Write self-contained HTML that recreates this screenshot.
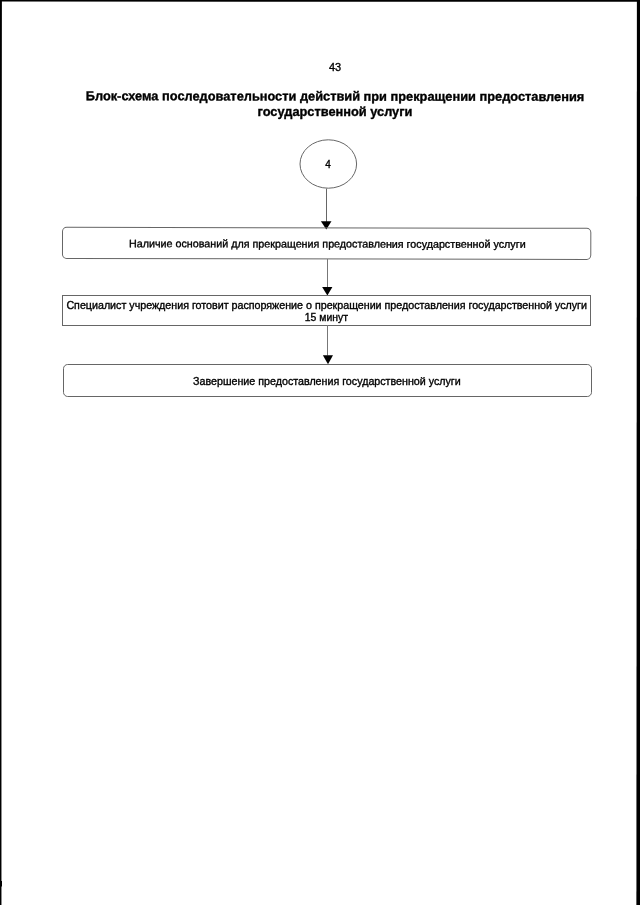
<!DOCTYPE html>
<html><head><meta charset="utf-8">
<style>
html,body{margin:0;padding:0;background:#fff;}
body{width:640px;height:905px;position:relative;overflow:hidden;}
svg{position:absolute;left:0;top:0;will-change:transform;}
text{font-family:"Liberation Sans",sans-serif;fill:#000;stroke:#000;stroke-width:0.35px;}
.ln{fill:none;stroke:#666;stroke-width:1;}
.sh{stroke:#777;stroke-width:1;}
</style></head><body>
<svg width="640" height="905" viewBox="0 0 640 905">
<!-- scan borders -->
<g filter="url(#bl)">
<polygon points="0,0 1.9,0 1.45,450 1.45,905 0,905" fill="#000"/>
<polygon points="0,0 640,0 640,1.7 0,1.6" fill="#000"/>
<polygon points="636.9,0 640,0 640,905 636.4,905" fill="#000"/>
<rect x="0" y="881" width="2" height="5.5" fill="#000"/>
</g>
<defs><filter id="bl" x="-1" y="-1" width="3" height="3"><feGaussianBlur stdDeviation="0.35"/></filter></defs>

<text x="335" y="71.3" font-size="11" text-anchor="middle">43</text>
<text x="335" y="100.6" font-size="12.8" font-weight="bold" text-anchor="middle" transform="rotate(0.08 335 100)">Блок-схема последовательности действий при прекращении предоставления</text>
<text x="335" y="115.5" font-size="12.8" font-weight="bold" text-anchor="middle">государственной услуги</text>

<ellipse class="ln" cx="328.3" cy="164" rx="28.3" ry="24.2"/>
<text x="328" y="167.8" font-size="10" text-anchor="middle">4</text>
<line class="sh" x1="326.5" y1="188.6" x2="326.5" y2="222" style="stroke:#666"/>
<path d="M320.9 221.2 L331.5 221.2 L326.3 229.6 Z" fill="#000"/>

<rect class="ln" x="62.5" y="227.8" width="528.3" height="31.1" rx="4.2" transform="rotate(0.115 326.6 243.4)"/>
<text x="129" y="247.2" font-size="10.74" transform="rotate(0.1 129 247)">Наличие оснований для прекращения предоставления государственной услуги</text>

<line class="sh" x1="327.5" y1="259" x2="327.5" y2="287.5"/>
<path d="M322.1 287.1 L332.4 287.1 L327.4 295.5 Z" fill="#000"/>

<rect class="ln" x="62.5" y="295.5" width="528" height="30"/>
<text x="66.4" y="308.7" font-size="10.7">Специалист учреждения готовит распоряжение о прекращении предоставления государственной услуги</text>
<text x="326.4" y="320.6" font-size="10.4" text-anchor="middle">15 минут</text>

<line class="sh" x1="327.5" y1="325" x2="327.5" y2="355.5"/>
<path d="M322.9 355.3 L333 355.3 L328 364.2 Z" fill="#000"/>

<rect class="ln" x="63.5" y="364.5" width="528" height="32" rx="4.2"/>
<text x="193.1" y="385" font-size="10.7" transform="translate(0 385) scale(1 1.06) translate(0 -385)">Завершение предоставления государственной услуги</text>
</svg>
</body></html>
